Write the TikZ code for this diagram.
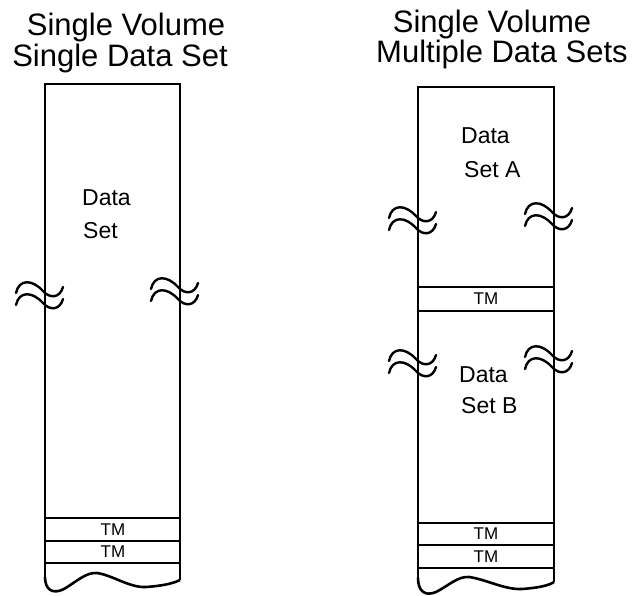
\documentclass[tikz,border=0pt]{standalone}
\usepackage{fontspec}
\setmainfont{Liberation Sans}
\begin{document}
\begin{tikzpicture}[x=1pt,y=-1pt,
  tape/.style={line width=2.6pt, line join=miter},
  sep/.style={line width=2.6pt},
  title/.style={anchor=base, inner sep=0pt, font=\fontsize{31}{31}\selectfont},
  lbl/.style={anchor=base west, inner sep=0pt, font=\fontsize{23}{23}\selectfont},
  tm/.style={anchor=center, inner sep=0pt, font=\fontsize{17}{17}\selectfont},
  brk/.pic={
    \draw[line width=2.4pt, line cap=round] (-29,4) .. controls (-26,-10) and (-13,-10) .. (-2,2) .. controls (5,10) and (15,9) .. (18,-2);
    \draw[line width=2.4pt, line cap=round] (-29,16) .. controls (-26,2) and (-13,2) .. (-2,14) .. controls (5,22) and (15,21) .. (18,10);
  }]
\useasboundingbox (0,0) rectangle (637,595);

% titles
\node[title] (t1a) at (126,35) {Single Volume};
\node[title] (t1b) at (120,66) {Single Data Set};
\node[title] (t2a) at (492,32) {Single Volume};
\node[title] (t2b) at (502,62) {Multiple Data Sets};

% left tape
\draw[tape] (45,578) -- (45,84) -- (180,84) -- (180,580);
\draw[tape] (45,577) .. controls (45,589) and (52,595) .. (64,589)
  .. controls (76,582) and (86,572) .. (97,573)
  .. controls (112,575) and (130,588) .. (146,587)
  .. controls (160,586) and (172,584) .. (180,580);
\draw[sep] (45,518) -- (180,518);
\draw[sep] (45,541) -- (180,541);
\draw[sep] (45,563) -- (180,563);
\node[tm] (tmL1) at (113,529.5) {TM};
\node[tm] (tmL2) at (113,552) {TM};
\node[lbl] (dL1) at (82,205) {Data};
\node[lbl] (dL2) at (83,238) {Set};
\pic at (45,289) {brk};
\pic at (180,285) {brk};

% right tape
\draw[tape] (418,579) -- (418,87) -- (554,87) -- (554,582);
\draw[tape] (418,578) .. controls (418,590) and (424,597) .. (436,592)
  .. controls (448,586) and (458,576) .. (469,577)
  .. controls (485,579) and (505,590) .. (522,589)
  .. controls (536,588) and (548,586) .. (554,582);
\draw[sep] (418,287) -- (554,287);
\draw[sep] (418,311) -- (554,311);
\draw[sep] (418,523) -- (554,523);
\draw[sep] (418,545) -- (554,545);
\draw[sep] (418,568) -- (554,568);
\node[tm] (tmR1) at (486,299) {TM};
\node[tm] (tmR2) at (486,534) {TM};
\node[tm] (tmR3) at (486,556.5) {TM};
\node[lbl] (dA1) at (461,143) {Data};
\node[lbl] (dA2) at (464,177) {Set A};
\node[lbl] (dB1) at (459,382) {Data};
\node[lbl] (dB2) at (461,413) {Set B};
\pic at (418,214) {brk};
\pic at (554,210) {brk};
\pic at (418,357) {brk};
\pic at (554,353) {brk};
\end{tikzpicture}
\end{document}
